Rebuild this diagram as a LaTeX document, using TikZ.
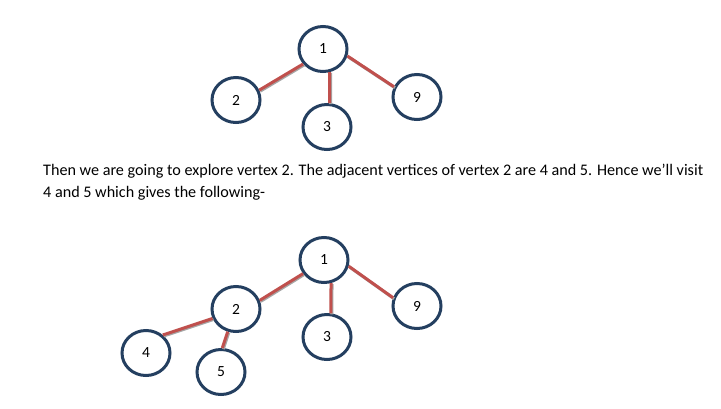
\documentclass[tikz,border=0pt]{standalone}
\usepackage{fontspec}
\setmainfont{Carlito}
\usetikzlibrary{shapes.geometric}
\definecolor{navy}{HTML}{243F60}
\definecolor{edgered}{HTML}{C0504D}
\tikzset{
  vert/.style={ellipse, draw=navy, line width=3pt, minimum width=48pt, minimum height=45pt, inner sep=0pt, font=\fontsize{15.5}{18}\selectfont},
  edgeshadow/.style={draw=black!35, line width=3pt, transform canvas={shift={(1pt,-1pt)}}},
  edgeline/.style={draw=edgered, line width=3pt},
  para/.style={anchor=base west, inner sep=0pt, font=\fontsize{16.15}{22}\selectfont}
}
\newcommand{\tedge}[2]{\draw[edgeshadow] #1 -- #2; \draw[edgeline] #1 -- #2;}
\begin{document}
\begin{tikzpicture}[x=1pt,y=-1pt]
\fill[white] (0,0) rectangle (721,408);
\useasboundingbox (0,0) rectangle (721,408);
% top graph
\node[vert] (t1) at (323,49) {1};
\node[vert] (t2) at (236,100) {2};
\node[vert] (t3) at (327,127) {3};
\node[vert] (t9) at (417,97) {9};
\tedge{(t1.217)}{(t2.23)}
\tedge{(t1.286)}{(t3.84)}
\tedge{(t1.-16)}{(t9.156)}
% text
\node[para] (l1) at (43,175) {Then we are going to explore vertex 2. The adjacent vertices of vertex 2 are 4 and 5. Hence we’ll visit};
\node[para] (l2) at (43,197) {4 and 5 which gives the following-};
% bottom graph
\node[vert] (b1) at (324,260) {1};
\node[vert] (b2) at (236,309) {2};
\node[vert] (b3) at (327,337) {3};
\node[vert] (b9) at (417,306) {9};
\node[vert] (b4) at (146,353) {4};
\node[vert] (b5) at (221,372) {5};
\tedge{(b1.213)}{(b2.20)}
\tedge{(b1.287)}{(b3.81)}
\tedge{(b1.-14)}{(b9.161)}
\tedge{(b2.202)}{(b4.47)}
\tedge{(b2.250)}{(b5.87)}
\end{tikzpicture}
\end{document}
